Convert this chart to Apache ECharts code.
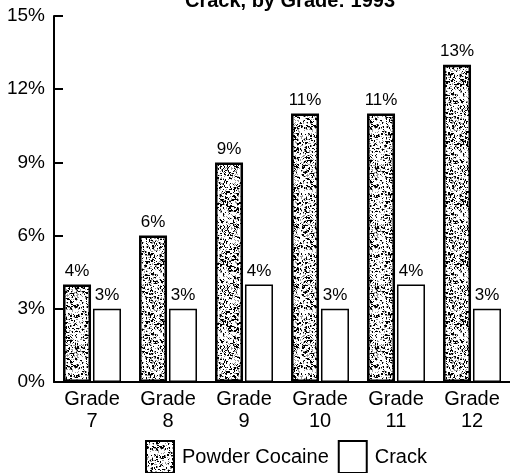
<!DOCTYPE html>
<html>
<head>
<meta charset="utf-8">
<script src="https://cdn.jsdelivr.net/npm/echarts@6/dist/echarts.min.js"></script>
<style>
html,body{margin:0;padding:0;background:#fff;}
#chart{width:510px;height:473px;}
</style>
</head>
<body>
<div id="chart"></div>
<script>
var categories = ['Grade\n7', 'Grade\n8', 'Grade\n9', 'Grade\n10', 'Grade\n11', 'Grade\n12'];
var powderCocaine = [4, 6, 9, 11, 11, 13];
var crack = [3, 3, 4, 3, 4, 3];
var seriesNames = ['Powder Cocaine', 'Crack'];
var titleText = 'Crack, by Grade: 1993';

// stippled texture for powder cocaine bars (deterministic)
function makeStipple() {
  var c = document.createElement('canvas');
  c.width = 60; c.height = 60;
  var ctx = c.getContext('2d');
  ctx.fillStyle = '#ffffff';
  ctx.fillRect(0, 0, 60, 60);
  var s = 12345;
  function rnd() { s = (s * 1103515245 + 12345) % 2147483648; return s / 2147483648; }
  ctx.fillStyle = '#000000';
  for (var i = 0; i < 650; i++) {
    var x = Math.floor(rnd() * 60), y = Math.floor(rnd() * 60);
    var w = rnd() < 0.3 ? 2 : 1;
    ctx.fillRect(x, y, w, rnd() < 0.3 ? 2 : 1);
  }
  ctx.fillStyle = '#9a9a9a';
  for (var j = 0; j < 600; j++) {
    ctx.fillRect(Math.floor(rnd() * 60), Math.floor(rnd() * 60), 1, 1);
  }
  return c;
}
var stipple = makeStipple();

var font = '"Liberation Sans", Arial, Helvetica, sans-serif';
var chart = echarts.init(document.getElementById('chart'));
chart.setOption({
  animation: false,
  backgroundColor: '#ffffff',
  textStyle: { fontFamily: font, color: '#000' },
  title: {
    text: titleText,
    left: 285,
    textAlign: 'center',
    top: -14,
    textStyle: { fontFamily: font, fontSize: 20, fontWeight: 'bold', color: '#000' }
  },
  grid: { left: 54, right: 0, top: 16, bottom: 91, containLabel: false },
  legend: {
    data: seriesNames,
    left: 145,
    top: 440,
    padding: 0,
    icon: 'rect',
    itemWidth: 28,
    itemHeight: 32,
    itemGap: 9,
    textStyle: { fontFamily: font, fontSize: 20, color: '#000', padding: [0, 0, 0, 3] }
  },
  xAxis: {
    type: 'category',
    data: categories,
    axisLine: { lineStyle: { color: '#000', width: 2 } },
    axisTick: { inside: true, length: 6, lineStyle: { color: '#000', width: 2 } },
    axisLabel: { fontFamily: font, fontSize: 20, color: '#000', lineHeight: 22, margin: 6 }
  },
  yAxis: {
    type: 'value',
    min: 0,
    max: 15,
    interval: 3,
    splitLine: { show: false },
    axisLine: { show: true, lineStyle: { color: '#000', width: 2 } },
    axisTick: { show: true, inside: true, length: 9, lineStyle: { color: '#000', width: 2 } },
    axisLabel: { formatter: '{value}%', fontFamily: font, fontSize: 19, color: '#000', margin: 9 }
  },
  series: [
    {
      name: seriesNames[0],
      type: 'bar',
      data: powderCocaine,
      barWidth: 28,
      barGap: '7%',
      itemStyle: { color: { image: stipple, repeat: 'repeat' }, borderColor: '#000', borderWidth: 2.5 },
      label: { show: true, position: 'top', distance: 5, formatter: '{c}%', fontFamily: font, fontSize: 17, color: '#000' }
    },
    {
      name: seriesNames[1],
      type: 'bar',
      data: crack,
      barWidth: 28,
      itemStyle: { color: '#ffffff', borderColor: '#000', borderWidth: 1.5 },
      label: { show: true, position: 'top', distance: 5, formatter: '{c}%', fontFamily: font, fontSize: 17, color: '#000' }
    }
  ]
});
</script>
</body>
</html>
